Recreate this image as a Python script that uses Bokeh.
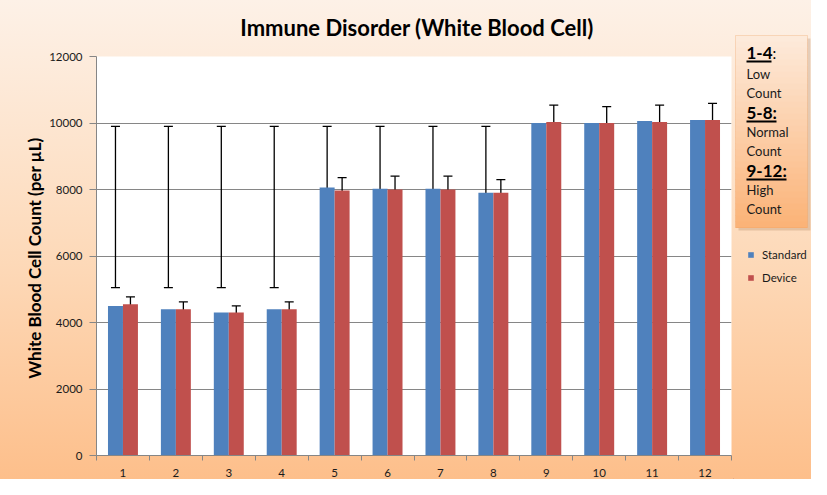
from bokeh.plotting import figure
from bokeh.layouts import row, column
from bokeh.models import (ColumnDataSource, Whisker, TeeHead, Legend, LegendItem,
                          Label, BoxAnnotation, FixedTicker, Range1d)
from bokeh.transform import dodge
from bokeh.embed import file_html
from bokeh.resources import INLINE

# ---- data ----
title_text = "Immune Disorder (White Blood Cell)"
categories = [1, 2, 3, 4, 5, 6, 7, 8, 9, 10, 11, 12]
tick_labels = ["1", "2", "3", "4", "5", "6", "7", "8", "9", "10", "11", "12"]
standard = [4500, 4400, 4300, 4400, 8060, 8020, 8020, 7900, 10000, 10000, 10060, 10090]
standard_err_low = [5050] * 12
standard_err_high = [9900] * 12
device = [4550, 4400, 4300, 4400, 7970, 8000, 8000, 7900, 10030, 10000, 10030, 10090]
device_err = [220, 220, 200, 220, 390, 400, 400, 400, 510, 490, 510, 500]
y_ticks = [0, 2000, 4000, 6000, 8000, 10000, 12000]

series_names = ["Standard", "Device"]
colors = ["#4f81bd", "#c0504d"]

src = ColumnDataSource(dict(
    x=categories,
    standard=standard,
    device=device,
    s_lo=standard_err_low,
    s_hi=standard_err_high,
    d_lo=[v - e for v, e in zip(device, device_err)],
    d_hi=[v + e for v, e in zip(device, device_err)],
))

H = 479
W1 = 733
W2 = 78
HT = 44


def blank(width, height):
    f = figure(width=width, height=height, output_backend="svg", toolbar_location=None,
               x_range=Range1d(0, width), y_range=Range1d(0, height),
               x_axis_location=None, y_axis_location=None, title=None,
               min_border=0, min_border_left=0, min_border_right=0,
               min_border_top=0, min_border_bottom=0)
    f.frame_align = False
    f.grid.visible = False
    f.border_fill_alpha = 0
    f.background_fill_alpha = 0
    f.outline_line_color = None
    return f


# ---- title strip ----
tfig = blank(W1, HT)
tfig.add_layout(Label(x=416.5, y=HT - 26.5, x_units="screen", y_units="screen", text=title_text,
                      text_font="Lato", text_font_size="22px", text_font_style="bold",
                      text_color="black", text_align="center", text_baseline="middle"))

# ---- main chart ----
p = figure(width=W1, height=H - HT, output_backend="svg", toolbar_location=None, title=None,
           x_range=Range1d(0.5, 12.5), y_range=Range1d(0, 12000),
           min_border_left=96, min_border_right=2, min_border_top=56 - HT, min_border_bottom=22)
p.frame_align = False
p.border_fill_alpha = 0
p.background_fill_color = "white"
p.outline_line_color = None

bw = 0.283
r1 = p.vbar(x=dodge("x", -bw / 2, range=p.x_range), top="standard", width=bw, bottom=0,
            source=src, fill_color=colors[0], line_color=None)
r2 = p.vbar(x=dodge("x", bw / 2, range=p.x_range), top="device", width=bw, bottom=0,
            source=src, fill_color=colors[1], line_color=None)

for col_x, lo, hi in [(-bw / 2, "s_lo", "s_hi"), (bw / 2, "d_lo", "d_hi")]:
    w = Whisker(base=dodge("x", col_x, range=p.x_range), lower=lo, upper=hi, source=src,
                line_color="black", line_width=1.3,
                upper_head=TeeHead(size=9, line_color="black", line_width=1.3),
                lower_head=TeeHead(size=9, line_color="black", line_width=1.3))
    p.add_layout(w)

p.xaxis.ticker = FixedTicker(ticks=categories,
                             minor_ticks=[c - 0.5 for c in categories] + [categories[-1] + 0.5])
p.xaxis.major_label_overrides = {c: t for c, t in zip(categories, tick_labels)}
p.xaxis.major_tick_line_color = None
p.xaxis.major_tick_out = 0
p.xaxis.major_tick_in = 0
p.xaxis.minor_tick_line_color = "#868686"
p.xaxis.minor_tick_out = 5
p.xaxis.minor_tick_in = 0
p.xaxis.major_label_standoff = 8
p.xgrid.grid_line_color = None

p.yaxis.ticker = FixedTicker(ticks=y_ticks, minor_ticks=[])
p.yaxis.major_tick_line_color = "#868686"
p.yaxis.major_tick_out = 7
p.yaxis.major_tick_in = 0
p.yaxis.major_label_standoff = 7
p.yaxis.axis_label = "White Blood Cell Count  (per \u00b5L)"
p.yaxis.axis_label_text_font = "Lato"
p.yaxis.axis_label_text_font_size = "17px"
p.yaxis.axis_label_text_font_style = "bold"
p.yaxis.axis_label_text_color = "black"
p.yaxis.axis_label_standoff = 1
p.ygrid.grid_line_color = "#868686"
p.ygrid.grid_line_width = 1

for ax in (p.xaxis, p.yaxis):
    ax.axis_line_color = "#868686"
    ax.major_label_text_font = "Lato"
    ax.major_label_text_font_size = "11.5px"
    ax.major_label_text_color = "#1a1a1a"

# ---- right-hand side panel: annotation box and legend ----
p2 = blank(W2, H)

# legend swatches: renderers placed outside the visible range, only their legend glyphs show
lr1 = p2.vbar(x=[-1000], top=[1], width=1, fill_color=colors[0], line_color=None)
lr2 = p2.vbar(x=[-1000], top=[1], width=1, fill_color=colors[1], line_color=None)
legend = Legend(items=[LegendItem(label=series_names[0], renderers=[lr1]),
                       LegendItem(label=series_names[1], renderers=[lr2])],
                location=(14, 193), orientation="vertical",
                glyph_width=7, glyph_height=7, label_height=18, spacing=5,
                label_standoff=8, padding=0, margin=0,
                border_line_color=None, background_fill_alpha=0,
                label_text_font="Lato", label_text_font_size="11.5px",
                label_text_color="#1a1a1a")
p2.add_layout(legend, "center")


def sbox(l, r, t, b, **kw):
    return BoxAnnotation(left=l, right=r, top=t, bottom=b,
                         left_units="screen", right_units="screen", top_units="screen",
                         bottom_units="screen", **kw)


box_l, box_r, box_t, box_b = 2, 74, 444, 252
p2.add_layout(sbox(box_l + 3, box_r + 3, box_t - 3, box_b - 3,
                   fill_color="#a0704a", fill_alpha=0.25, line_color=None))
nb = 32
c0 = (0xfd, 0xea, 0xda)
c1 = (0xfb, 0xb3, 0x78)
step = (box_t - box_b) / nb
for i in range(nb):
    f = i / (nb - 1)
    col = "#%02x%02x%02x" % tuple(int(round(a + (b - a) * f)) for a, b in zip(c0, c1))
    p2.add_layout(sbox(box_l, box_r, box_t - i * step, box_t - (i + 1) * step - 0.6,
                       fill_color=col, fill_alpha=1, line_color=None))
p2.add_layout(sbox(box_l, box_r, box_t, box_b, fill_alpha=0,
                   line_color="#f0a060", line_width=1))

tx = 13
heads = [("1-4", ":", 427, 25), ("5-8:", "", 367, 30), ("9-12:", "", 309, 40)]
for txt, tail, y, ul in heads:
    p2.add_layout(Label(x=tx, y=y, x_units="screen", y_units="screen", text=txt,
                        text_font="Lato", text_font_size="17px", text_font_style="bold",
                        text_color="black", text_baseline="middle", text_align="left"))
    if tail:
        p2.add_layout(Label(x=tx + ul + 1, y=y, x_units="screen", y_units="screen", text=tail,
                            text_font="Lato", text_font_size="15px",
                            text_color="black", text_baseline="middle", text_align="left"))
    p2.add_layout(sbox(tx, tx + ul, y - 8, y - 10,
                       fill_color="black", fill_alpha=1, line_color=None))

body = [("Low", 406), ("Count", 387), ("Normal", 348), ("Count", 329), ("High", 290), ("Count", 271)]
for txt, y in body:
    p2.add_layout(Label(x=tx, y=y, x_units="screen", y_units="screen", text=txt,
                        text_font="Lato", text_font_size="13px",
                        text_color="#1a1a1a", text_baseline="middle", text_align="left"))

layout = row(column(tfig, p, spacing=0), p2, spacing=0)
layout.styles = {"background": "linear-gradient(to bottom, #fdf1e7 0%, #fdd9b8 55%, #fdbf8b 100%)"}

open("out.html", "w").write(file_html(layout, INLINE))
